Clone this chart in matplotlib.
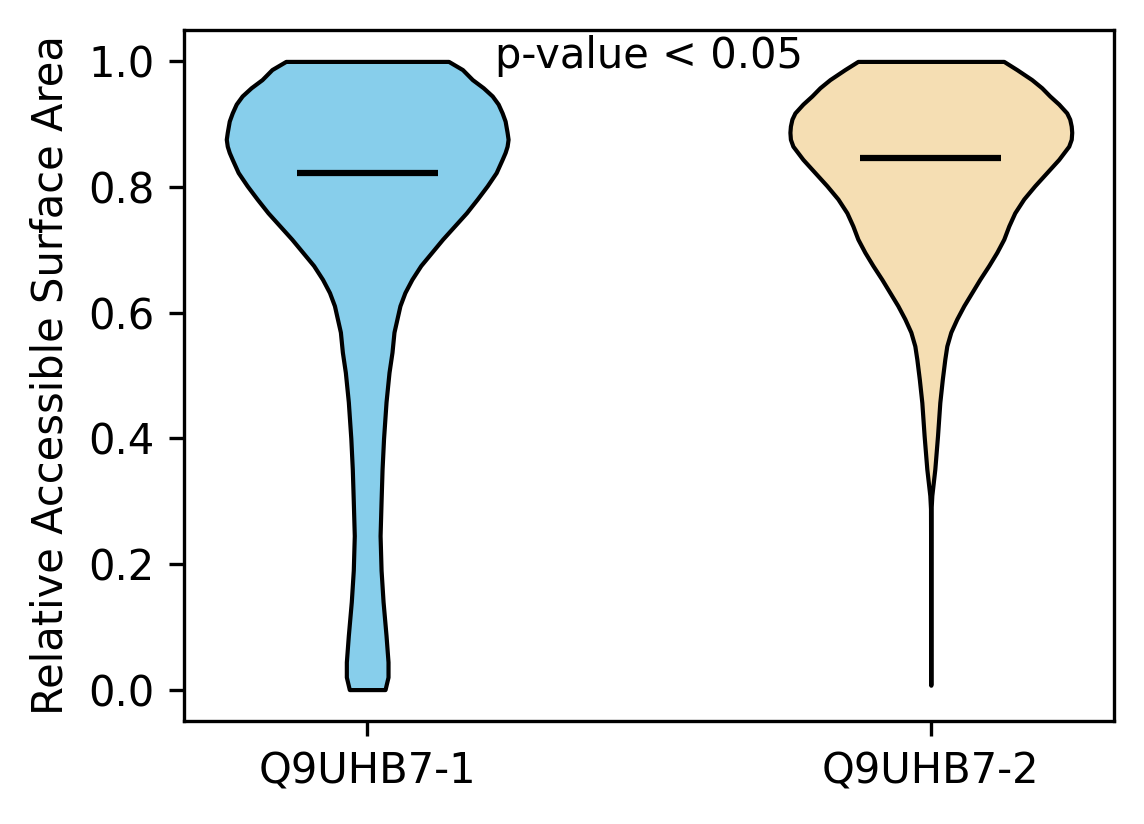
import numpy as np
import matplotlib
matplotlib.use("Agg")
import matplotlib.pyplot as plt

# isoform names and medians
labels = ['Q9UHB7-1', 'Q9UHB7-2']
medians = [0.822, 0.847]

# violin outline: RSA value and relative density (half width)
v1_y = [0.0, 0.02, 0.044, 0.086, 0.14, 0.19, 0.245, 0.30, 0.351, 0.40, 0.458,
        0.505, 0.537, 0.569, 0.590, 0.611, 0.632, 0.653, 0.675, 0.696, 0.717,
        0.738, 0.759, 0.781, 0.802, 0.823, 0.844, 0.855, 0.865, 0.876, 0.887,
        0.905, 0.918, 0.932, 0.945, 0.958, 0.971, 0.987, 1.0]
v1_d = [18, 21, 21, 19, 16, 14, 13, 14, 15, 16.5, 19,
        22, 25, 27, 30, 33, 38, 45, 54, 65, 76,
        88, 100, 111, 121, 130, 136, 139, 141, 142, 141,
        139, 136, 132, 126, 117, 106, 96, 82]

v2_y = [0.007, 0.1, 0.2, 0.288, 0.309, 0.351, 0.404, 0.457, 0.494, 0.526,
        0.547, 0.569, 0.590, 0.611, 0.632, 0.653, 0.675, 0.696, 0.717, 0.738,
        0.759, 0.781, 0.802, 0.823, 0.844, 0.865, 0.876, 0.887, 0.897, 0.908,
        0.918, 0.932, 0.945, 0.958, 0.971, 0.987, 1.0]
v2_d = [0.05, 0.1, 0.15, 0.3, 1, 4, 6.7, 9, 11.5, 14,
        16, 20, 26, 33, 41, 49, 58, 66, 73, 78,
        84, 93, 104, 116, 128, 138, 140.5, 141, 140.5, 139,
        136, 128, 119, 111, 101, 86, 73]

colors = ['skyblue', 'wheat']

stats = []
for ys, ds, med in [(v1_y, v1_d, medians[0]), (v2_y, v2_d, medians[1])]:
    stats.append(dict(coords=np.array(ys), vals=np.array(ds, dtype=float),
                      mean=med, median=med, min=min(ys), max=max(ys)))

fig, ax = plt.subplots(figsize=(1144/300, 824/300), dpi=300)
fig.subplots_adjust(left=184/1144, right=1114/1144, top=1-30/824, bottom=1-721/824)

parts = ax.violin(stats, positions=[1, 2], widths=0.5,
                  showmeans=False, showextrema=False, showmedians=True)
for body, c in zip(parts['bodies'], colors):
    body.set_facecolor(c)
    body.set_edgecolor('black')
    body.set_linewidth(1)
    body.set_alpha(1)
parts['cmedians'].set_color('black')
parts['cmedians'].set_linewidth(1.5)

ax.set_xticks([1, 2])
ax.set_xticklabels(labels)
ax.set_ylabel('Relative Accessible Surface Area')
ax.text(1.5, 0.99, 'p-value < 0.05', ha='center', va='baseline')

plt.savefig('out.png', dpi=300)
